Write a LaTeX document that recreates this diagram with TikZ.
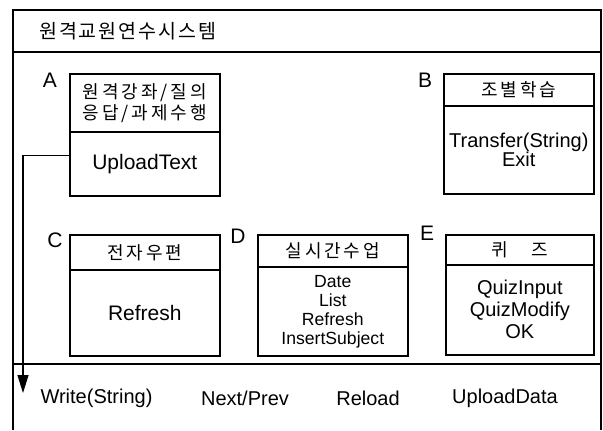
\documentclass[tikz,border=0pt]{standalone}
\usepackage{fontspec}
\setmainfont{Liberation Sans}
\newfontfamily\kr[LetterSpace=16]{Noto Sans CJK KR}
\newfontfamily\krtitle[LetterSpace=10]{Noto Sans CJK KR}
\usetikzlibrary{arrows.meta}
\tikzset{
  boxpart/.style={draw, line width=1.6bp, inner sep=0pt, anchor=north west, align=center},
  lat/.style={font=\fontsize{20bp}{19.5bp}\selectfont},
  krt/.style={font=\kr\fontsize{18bp}{21bp}\selectfont},
  tag/.style={font=\fontsize{21bp}{21bp}\selectfont, inner sep=0pt},
  frameline/.style={line width=1.4bp},
  conn/.style={line width=1.3bp, -{Triangle[width=11bp,length=18bp]}}
}
\begin{document}
\begin{tikzpicture}[x=1bp,y=-1bp]
\useasboundingbox (0,0) rectangle (603,430);
% outer frame
\draw[frameline] (13,430) -- (13,10) -- (601,10) -- (601,430);
\draw[frameline] (13,52) -- (601,52);
\draw[frameline] (13,364) -- (601,364);
\node[font=\krtitle\fontsize{19.5bp}{21bp}\selectfont, anchor=west, inner sep=0pt] (title) at (39,31) {원격교원연수시스템};
% Box A
\node[boxpart, krt, minimum width=150bp, minimum height=58bp] (Ah) at (69,73) {원격강좌/질의\\응답/과제수행};
\node[boxpart, font=\fontsize{21bp}{21bp}\selectfont, minimum width=150bp, minimum height=64bp] (Ab) at (69,131) {UploadText};
\node[tag] (La) at (50,80) {A};
% Box B
\node[boxpart, krt, minimum width=150bp, minimum height=32bp] (Bh) at (443,73) {조별학습};
\node[boxpart, lat, minimum width=150bp, minimum height=88bp] (Bb) at (443,105) {Transfer(String)\\Exit};
\node[tag] (Lb) at (425,80) {B};
% Box C
\node[boxpart, krt, minimum width=150bp, minimum height=35bp] (Ch) at (69,234) {전자우편};
\node[boxpart, font=\fontsize{21bp}{21bp}\selectfont, minimum width=150bp, minimum height=86bp] (Cb) at (69,269) {Refresh};
\node[tag] (Lc) at (55,240) {C};
% Box D
\node[boxpart, krt, minimum width=150bp, minimum height=32bp] (Dh) at (257,234) {실시간수업};
\node[boxpart, font=\fontsize{17.6bp}{19bp}\selectfont, minimum width=150bp, minimum height=89bp] (Db) at (257,266) {Date\\List\\Refresh\\InsertSubject};
\node[tag] (Ld) at (238,236) {D};
% Box E
\node[boxpart, krt, minimum width=148bp, minimum height=30bp] (Eh) at (445,234) {퀴\hspace{1.3em}즈};
\node[boxpart, font=\fontsize{20bp}{22bp}\selectfont, minimum width=148bp, minimum height=90bp] (Eb) at (445,264) {QuizInput\\QuizModify\\OK};
\node[tag] (Le) at (427,233) {E};
% bottom row
\node[lat] (w1) at (96.5,398) {Write(String)};
\node[lat] (w2) at (245,398) {Next/Prev};
\node[lat] (w3) at (368,398) {Reload};
\node[lat] (w4) at (505,398) {UploadData};
% connector
\coordinate (arrEnd) at (23,393);
\draw[conn] ([yshift=8bp]Ab.west) -| (arrEnd);
\end{tikzpicture}
\end{document}
